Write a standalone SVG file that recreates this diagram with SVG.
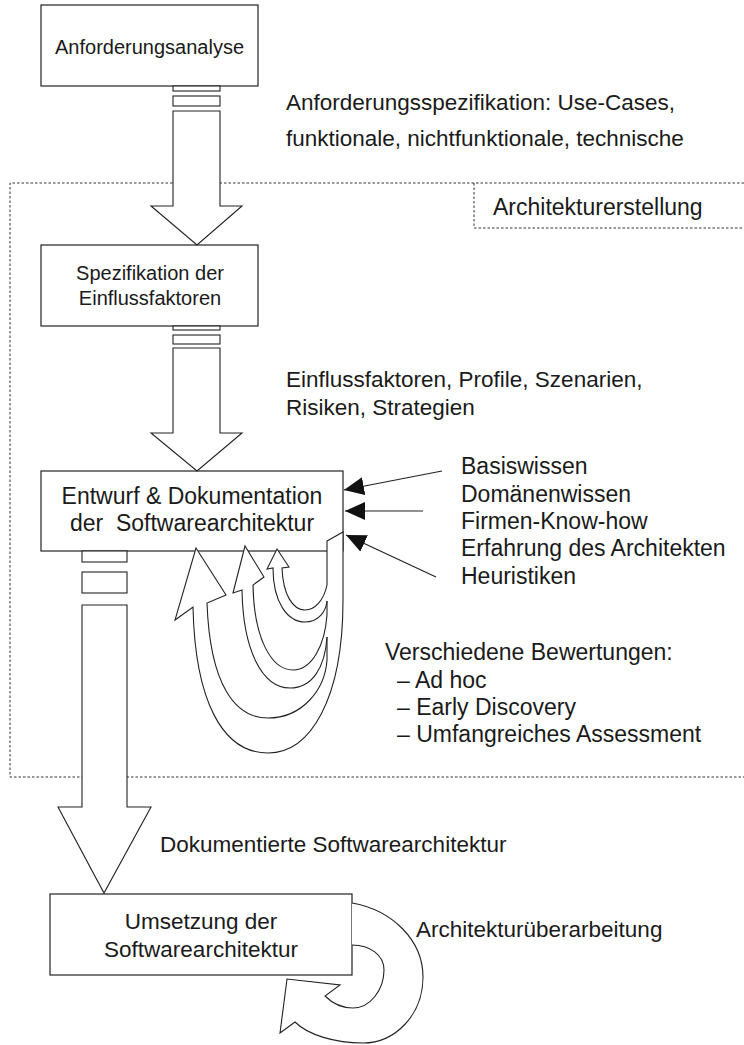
<svg xmlns="http://www.w3.org/2000/svg" width="744" height="1045" viewBox="0 0 744 1045">
<style>
.box{fill:#fff;stroke:#222;stroke-width:1.2}
.ar{fill:#fff;stroke:#222;stroke-width:1.1;stroke-linejoin:miter}
.lp{fill:none;stroke:#222;stroke-width:1.1}
.lf{fill:#fff;stroke:none}
.dot{fill:none;stroke:#333;stroke-width:1;stroke-dasharray:2.5,2}
.t{font-family:"Liberation Sans",Arial,Helvetica,sans-serif;font-size:22.5px;fill:#1a1a1a}
.s{font-size:20px}
.m{font-size:23px}
.c{text-anchor:middle}
.ln{stroke:#222;stroke-width:1.2;fill:none}
</style>
<defs>
<marker id="blk" viewBox="0 0 20 18" refX="20" refY="9" markerWidth="20" markerHeight="18" markerUnits="userSpaceOnUse" orient="auto">
<path d="M0,0 L20,9 L0,18 Z" fill="#111"/>
</marker>
</defs>

<g id="frame">
<path class="dot" d="M744,183 H10 V777 H744"/>
<path class="dot" d="M474,183 V228 H744"/>
<text class="t m" x="493" y="215">Architekturerstellung</text>
</g>

<g id="n1">
<rect class="box" x="41" y="5" width="217" height="81"/>
<text class="t s c" x="149.5" y="54">Anforderungsanalyse</text>
</g>
<g id="n2">
<rect class="box" x="41" y="245" width="217" height="81"/>
<text class="t s c" x="150" y="280">Spezifikation der</text>
<text class="t s c" x="150" y="305">Einflussfaktoren</text>
</g>
<g id="n3">
<rect class="box" x="41" y="471" width="302" height="80"/>
<text class="t m c" x="192" y="504">Entwurf &amp; Dokumentation</text>
<text class="t m c" x="192" y="531" xml:space="preserve">der  Softwarearchitektur</text>
</g>
<g id="n4">
<rect class="box" x="50" y="894" width="302" height="81"/>
<text class="t c" x="201" y="929">Umsetzung der</text>
<text class="t c" x="201" y="957">Softwarearchitektur</text>
</g>

<g id="connectors">
<rect class="ar" x="173" y="86" width="47" height="5"/>
<rect class="ar" x="173" y="96" width="47" height="10"/>
<path class="ar" d="M173,111 H220 V206 H242 L197,245 L151,206 H173 Z"/>
<rect class="ar" x="173" y="326" width="47" height="4"/>
<rect class="ar" x="173" y="335" width="47" height="9"/>
<path class="ar" d="M173,348 H220 V433 H242 L197,471 L151,433 H173 Z"/>
<rect class="ar" x="82" y="551" width="45" height="11"/>
<rect class="ar" x="82" y="572" width="45" height="21"/>
<path class="ar" d="M82,605 H127 V807 H151 L104,893 L58,807 H82 Z"/>

<path class="ar" d="M327,541 L343,532 L343,600 C343,700 310,753 268,753 C222,753 195,700 193,607 L175,620 L196,548 L226,595 L207,603 C210,685 235,718 268,718 C302,718 325,690 327,660 Z"/>
<path class="lf" d="M335,637 L326,637 C325,668 312,688 290,688 C262,688 243,650 242,590 L233,593 L245,546 L264,577 L253,585 C254,640 272,670 293,670 C312,670 325,645 326,615 L335,615 Z"/>
<path class="lp" d="M327,637 C325,668 312,688 290,688 C262,688 243,650 242,590 L233,593 L245,546 L264,577 L253,585 C254,640 272,670 293,670 C312,670 325,645 327,615"/>
<path class="lf" d="M335,601 L326,601 C326,612 318,622 305,622 C288,622 273,603 273,568 L267,569 L277,549 L289,567 L282,568 C283,595 293,610 305,610 C315,610 324,600 326,585 L335,585 Z"/>
<path class="lp" d="M327,601 C326,612 318,622 305,622 C288,622 273,603 273,568 L267,569 L277,549 L289,567 L282,568 C283,595 293,610 305,610 C315,610 324,600 327,585"/>

<line class="ln" x1="442" y1="471" x2="344" y2="490" marker-end="url(#blk)"/>
<line class="ln" x1="423" y1="511" x2="345" y2="511" stroke="#555" marker-end="url(#blk)"/>
<line class="ln" x1="436" y1="577" x2="346" y2="535" marker-end="url(#blk)"/>

<path class="ar" d="M352,903 C392,910 423,940 423,977 C423,1015 395,1043 363,1043 C335,1043 308,1035 295,1022 L280,1033 L287,979 L340,985 L325,996 C333,1004 343,1008 353,1008 C370,1008 384,990 384,970 C384,955 370,945 352,945"/>
</g>

<g id="labels">
<text class="t" x="286" y="110">Anforderungsspezifikation: Use-Cases,</text>
<text class="t" x="286" y="146">funktionale, nichtfunktionale, technische</text>
<text class="t" x="286" y="387">Einflussfaktoren, Profile, Szenarien,</text>
<text class="t" x="286" y="415">Risiken, Strategien</text>
<text class="t m" x="461" y="474">Basiswissen</text>
<text class="t m" x="461" y="502">Domänenwissen</text>
<text class="t m" x="461" y="529">Firmen-Know-how</text>
<text class="t m" x="461" y="556">Erfahrung des Architekten</text>
<text class="t m" x="461" y="584">Heuristiken</text>
<text class="t m" x="385" y="660">Verschiedene Bewertungen:</text>
<text class="t m" x="397" y="688">– Ad hoc</text>
<text class="t m" x="397" y="715">– Early Discovery</text>
<text class="t m" x="397" y="742">– Umfangreiches Assessment</text>
<text class="t" x="160" y="852">Dokumentierte Softwarearchitektur</text>
<text class="t" x="416" y="937">Architekturüberarbeitung</text>
</g>
</svg>
